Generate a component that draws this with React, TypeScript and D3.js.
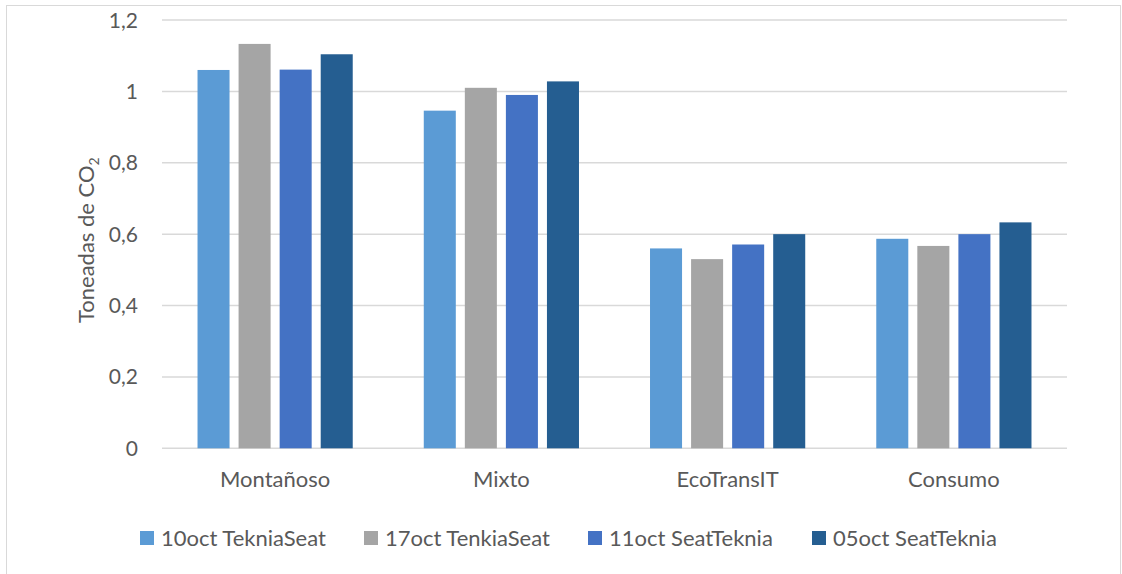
import React from "react";
import * as d3 from "d3";

const categories = ["Montañoso", "Mixto", "EcoTransIT", "Consumo"];
const seriesNames = ["10oct TekniaSeat", "17oct TenkiaSeat", "11oct SeatTeknia", "05oct SeatTeknia"];
const s10oct = [1.06, 0.946, 0.56, 0.587];
const s17oct = [1.133, 1.01, 0.53, 0.567];
const s11oct = [1.061, 0.99, 0.571, 0.6];
const s05oct = [1.104, 1.028, 0.6, 0.633];
const seriesValues = [s10oct, s17oct, s11oct, s05oct];
const yTicks = [0, 0.2, 0.4, 0.6, 0.8, 1, 1.2];
const colors = ["#5B9BD5", "#A5A5A5", "#4472C4", "#255E91"];

const W = 1122;
const H = 574;
const plot = { left: 162, right: 1067, top: 20, bottom: 448.3 };
const FONT = "Lato, 'Open Sans', sans-serif";
const TEXT = "#595959";

export default function App() {
  const y = d3.scaleLinear().domain([0, 1.2]).range([plot.bottom, plot.top]);
  const x0 = d3
    .scaleBand<string>()
    .domain(categories)
    .range([plot.left, plot.right])
    .paddingInner(0.314)
    .paddingOuter(0.157);
  const x1 = d3
    .scaleBand<string>()
    .domain(seriesNames)
    .range([0, x0.bandwidth()])
    .paddingInner(0.22);
  const fmt = (v: number) => String(+v.toFixed(1)).replace(".", ",");

  const legendStep = 224;
  const legendStart = 140;

  return (
    <div style={{ position: "fixed", left: 0, top: 0 }}>
      <svg width={W} height={H} style={{ display: "block", background: "#fff" }}>
        <rect x={6.5} y={5.5} width={1114} height={600} fill="#fff" stroke="#d9d9d9" strokeWidth={1} />
        {yTicks.map((t) => (
          <g key={t}>
            <line
              x1={plot.left}
              x2={plot.right}
              y1={y(t)}
              y2={y(t)}
              stroke="#d9d9d9"
              strokeWidth={1.5}
            />
            <text
              x={138}
              y={y(t)}
              dy="0.36em"
              textAnchor="end"
              fontFamily={FONT}
              fontSize={21}
              fill={TEXT}
            >
              {fmt(t)}
            </text>
          </g>
        ))}
        {categories.map((c, ci) => (
          <g key={c} transform={`translate(${x0(c)},0)`}>
            {seriesNames.map((s, si) => {
              const v = seriesValues[si][ci];
              return (
                <rect
                  key={s}
                  x={x1(s)}
                  y={y(v)}
                  width={x1.bandwidth()}
                  height={y(0) - y(v)}
                  fill={colors[si]}
                />
              );
            })}
            <text
              x={x0.bandwidth() / 2}
              y={487}
              textAnchor="middle"
              fontFamily={FONT}
              fontSize={22}
              fill={TEXT}
            >
              {c}
            </text>
          </g>
        ))}
        <text
          transform={`translate(94,${(plot.top + plot.bottom) / 2 + 6}) rotate(-90)`}
          textAnchor="middle"
          fontFamily={FONT}
          fontSize={22}
          fill={TEXT}
        >
          Toneadas de CO
          <tspan fontSize={14} dy={5}>2</tspan>
        </text>
        {seriesNames.map((s, i) => (
          <g key={s} transform={`translate(${legendStart + i * legendStep},0)`}>
            <rect x={0} y={531} width={14} height={14} fill={colors[i]} />
            <text x={21} y={546} fontFamily={FONT} fontSize={22} fill={TEXT}>
              {s}
            </text>
          </g>
        ))}
      </svg>
    </div>
  );
}
